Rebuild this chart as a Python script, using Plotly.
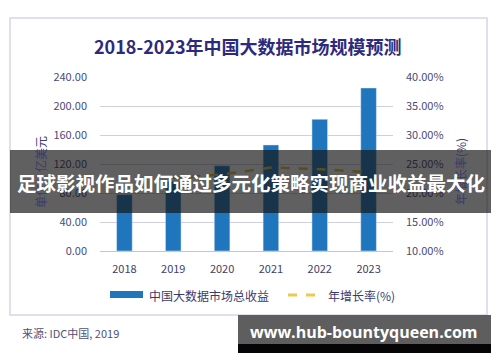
import plotly.graph_objects as go

years = ["2018", "2019", "2020", "2021", "2022", "2023"]
revenue = [77.8, 96.0, 117.6, 146.3, 181.7, 224.9]
growth = [None, 22.6, 23.2, 24.4, 24.1, 23.6]
left_ticks = [0, 40, 80, 120, 160, 200, 240]
right_ticks = [10, 15, 20, 25, 30, 35, 40]

title_text = "2018-2023年中国大数据市场规模预测"
bar_name = "中国大数据市场总收益"
line_name = "年增长率(%)"
left_title = "单位：亿美元"
right_title = "年增长率(%)"
source_text = "来源: IDC中国, 2019"
overlay_text = "足球影视作品如何通过多元化策略实现商业收益最大化"
watermark = "www.hub-bountyqueen.com"

W, H = 500, 362
L, R, T, B = 100, 393, 77, 251


def px(x):
    return (x - L) / (R - L)


def py(y):
    return (B - y) / (B - T)


FONT = "Noto Sans CJK SC"
NAVY = "#2d2a7d"
TICK = "#4a4a78"
BAR = "#1f76bd"
GOLD = "#e9bd3a"

fig = go.Figure()
fig.add_trace(go.Bar(x=years, y=revenue, marker_color=BAR, width=0.32,
                     name=bar_name, showlegend=False, yaxis="y"))
fig.add_trace(go.Scatter(x=years, y=growth, mode="lines", name=line_name,
                         line=dict(color=GOLD, width=2.5, dash="dash"),
                         showlegend=False, yaxis="y2", connectgaps=False))

fig.update_layout(
    width=W, height=H,
    margin=dict(l=L, r=W - R, t=T, b=H - B, pad=0),
    paper_bgcolor="white", plot_bgcolor="white",
    font=dict(family=FONT, color=TICK, size=11),
    bargap=0.67,
    xaxis=dict(tickfont=dict(size=11, color="#3e3e6a"), showgrid=False,
               ticks="outside", ticklen=8, tickcolor="rgba(0,0,0,0)",
               showline=False, zeroline=False),
    yaxis=dict(range=[0, 240], tickvals=left_ticks, tickformat=".2f",
               showgrid=True, gridcolor="#cfcfe0", gridwidth=1,
               zeroline=True, zerolinecolor="#c4c4d8", zerolinewidth=1,
               ticklabelstandoff=12, tickfont=dict(size=11, color=TICK),
               showline=False),
    yaxis2=dict(range=[10, 40], tickvals=right_ticks,
                ticktext=[f"{v:.2f}%" for v in right_ticks],
                overlaying="y", side="right", showgrid=False, zeroline=False,
                ticklabelstandoff=12, tickfont=dict(size=11, color=TICK),
                showline=False),
)

shapes = []
annotations = []

# frame
shapes.append(dict(type="rect", xref="paper", yref="paper",
                   x0=px(10), x1=px(487), y0=py(315), y1=py(18),
                   line=dict(color="#d6d6e6", width=1.5), fillcolor="rgba(0,0,0,0)",
                   layer="below"))

annotations.append(dict(text=f"<b>{title_text}</b>", xref="paper", yref="paper",
                        x=px(248), y=py(46), showarrow=False, xanchor="center", yanchor="middle",
                        font=dict(size=18, color=NAVY, family=FONT)))

annotations.append(dict(text=left_title, xref="paper", yref="paper", x=px(40), y=py(172),
                        showarrow=False, textangle=-90, xanchor="center", yanchor="middle",
                        font=dict(size=12, color="#3a3a6e", family=FONT)))
annotations.append(dict(text=right_title, xref="paper", yref="paper", x=px(460), y=py(172),
                        showarrow=False, textangle=-90, xanchor="center", yanchor="middle",
                        font=dict(size=12, color="#3a3a6e", family=FONT)))

# legend
shapes.append(dict(type="rect", xref="paper", yref="paper", x0=px(110), x1=px(143),
                   y0=py(298), y1=py(291), fillcolor=BAR, line=dict(width=0)))
annotations.append(dict(text=bar_name, xref="paper", yref="paper", x=px(147), y=py(295),
                        showarrow=False, xanchor="left", yanchor="middle",
                        font=dict(size=12, color="#3a3a6e", family=FONT)))
shapes.append(dict(type="line", xref="paper", yref="paper", x0=px(288), x1=px(321),
                   y0=py(295), y1=py(295), line=dict(color="#f0c94c", width=3, dash="dash")))
annotations.append(dict(text=line_name, xref="paper", yref="paper", x=px(326), y=py(295),
                        showarrow=False, xanchor="left", yanchor="middle",
                        font=dict(size=12, color="#3a3a6e", family=FONT)))

annotations.append(dict(text=source_text, xref="paper", yref="paper", x=px(20), y=py(333),
                        showarrow=False, xanchor="left", yanchor="middle",
                        font=dict(size=11, color="#50507a", family=FONT)))

# overlay band
shapes.append(dict(type="rect", xref="paper", yref="paper", x0=px(10), x1=px(491),
                   y0=py(213), y1=py(150), fillcolor="rgba(20,20,20,0.68)",
                   line=dict(width=0), layer="above"))
annotations.append(dict(text=f"<b>{overlay_text}</b>", xref="paper", yref="paper",
                        x=px(251), y=py(182), showarrow=False, xanchor="center", yanchor="middle",
                        font=dict(size=19.5, color="white", family=FONT)))

# watermark
shapes.append(dict(type="rect", xref="paper", yref="paper", x0=px(238), x1=px(491),
                   y0=py(344), y1=py(315), fillcolor="#5e5e5e", line=dict(width=0), layer="above"))
shapes.append(dict(type="rect", xref="paper", yref="paper", x0=px(238), x1=px(491),
                   y0=py(353), y1=py(344), fillcolor="#050505", line=dict(width=0), layer="above"))
annotations.append(dict(text=f"<b>{watermark}</b>", xref="paper", yref="paper",
                        x=px(364), y=py(332), showarrow=False, xanchor="center", yanchor="middle",
                        font=dict(size=16, color="white", family="Open Sans")))

fig.update_layout(shapes=shapes, annotations=annotations)
fig.write_html("out.html", config={"displayModeBar": False},
               post_script="document.body.style.margin='0';")
